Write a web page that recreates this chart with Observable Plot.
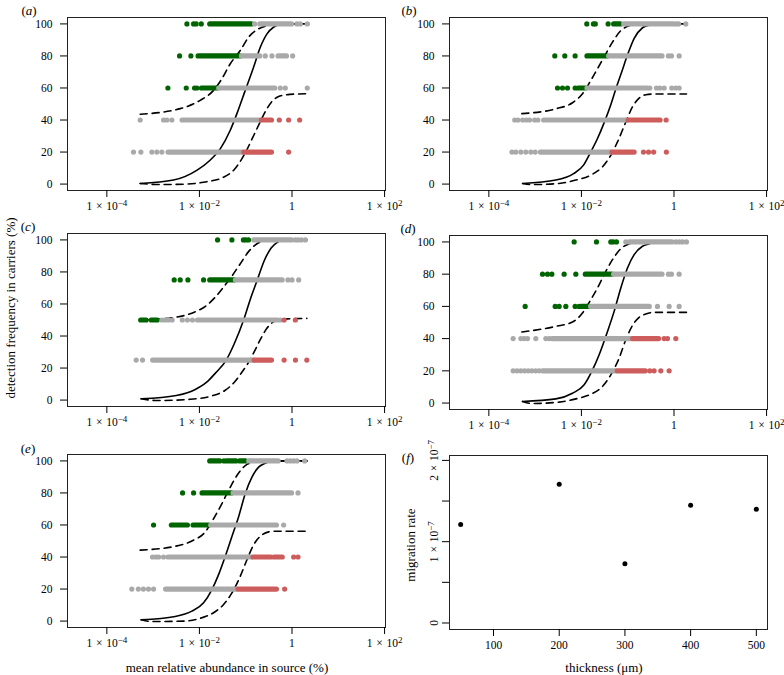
<!DOCTYPE html>
<html><head><meta charset="utf-8">
<script src="https://cdn.jsdelivr.net/npm/d3@7"></script>
<script src="https://cdn.jsdelivr.net/npm/@observablehq/plot@0.6"></script>
<style>
body{margin:0;background:#fff;}
#wrap{position:relative;width:784px;height:675px;font-family:"Liberation Serif","Times New Roman",Times,"DejaVu Serif",serif;color:#000;background:#fff;overflow:hidden;}
#wrap svg{position:absolute;overflow:visible;}
#wrap svg text{font-family:"Liberation Serif","Times New Roman",Times,"DejaVu Serif",serif;}
.lab{position:absolute;font-size:13px;line-height:1;white-space:nowrap;transform:translate(-50%,-50%);}
.rot{transform:translate(-50%,-50%) rotate(-90deg);}
</style></head><body><div id="wrap"></div>
<script>
// ---------- shared axis data ----------
const xTicks = [1e-4, 1e-2, 1, 1e2];
const xTickLabels = ["1\u2004×\u200410^−4", "1\u2004×\u200410^−2", "1", "1\u2004×\u200410^2"];
const yTicks = [0, 20, 40, 60, 80, 100];
const groups = ["n", "g", "r"];            // grey, green, red
const groupColors = ["#A9A9A9", "#006400", "#CD5C5C"];

// ---------- panel (a) : dots [row, group, log10 abundance], runs [row, group, from, to] ----------
const aDots = [
  [100,"g",-2.27],[100,"g",-2.126],[100,"g",-2.07],[100,"g",-1.96],[100,"n",-0.808],[100,"n",0.108],[100,"n",0.18],[100,"n",0.33],
  [80,"g",-2.429],[80,"g",-2.184],[80,"n",-0.577],[80,"n",-0.433],[80,"n",0.014],
  [60,"g",-2.681],[60,"g",-2.285],[60,"g",-2.105],[60,"g",-2.055],[60,"n",-0.253],[60,"n",-0.145],[60,"n",0.33],
  [40,"n",-3.28],[40,"n",-2.775],[40,"n",-2.703],[40,"n",-2.595],[40,"r",-0.274],[40,"r",-0.073],[40,"r",0.165],
  [20,"n",-3.424],[20,"n",-3.265],[20,"n",-3.027],[20,"n",-2.919],[20,"n",-2.811],[20,"r",-0.073]
];
const aRuns = [
  [100,"g",-1.766,-0.865],[100,"n",-0.685,0.0],
  [80,"g",-2.018,-1.117],[80,"n",-1.081,-0.685],[80,"n",-0.289,-0.108],
  [60,"g",-1.946,-1.6],[60,"n",-1.572,-0.361],
  [40,"n",-2.364,-0.685],[40,"r",-0.649,-0.433],
  [20,"n",-2.667,-1.067],[20,"r",-1.031,-0.433]
];
const aSolid = [[-3.28,0.4],[-2.56,2.5],[-2.05,8.7],[-1.77,14.9],[-1.55,22],[-1.334,33.6],[-1.19,44],[-1.01,58.5],[-0.83,73],[-0.685,85.4],[-0.54,93.8],[-0.4,97.9],[-0.253,99.7],[0.0,100],[0.36,100]];
const aUpper = [[-3.28,43.6],[-2.415,47.1],[-1.983,52.3],[-1.695,58.5],[-1.514,65.8],[-1.334,75.1],[-1.118,83.4],[-0.938,91.7],[-0.757,96.3],[-0.54,98.9],[-0.4,100],[0.36,100]];
const aLower = [[-3.28,0.4],[-2.85,-0.3],[-2.3,0],[-1.84,1.5],[-1.5,4],[-1.25,9],[-1.1,15],[-1.0,20],[-0.85,29],[-0.7,38],[-0.6,44],[-0.45,51],[-0.3,54.5],[-0.05,56],[0.36,56.4]];

// ---------- panel (b) ----------
const bDots = [
  [100,"g",-1.884],[100,"g",-1.74],[100,"g",-1.7],[100,"g",-1.423],[100,"n",0.05],[100,"n",0.1],[100,"n",0.255],
  [80,"g",-2.575],[80,"g",-2.359],[80,"g",-2.136],[80,"n",-0.12],[80,"n",-0.055],[80,"n",0.111],
  [60,"g",-2.517],[60,"g",-2.409],[60,"g",-2.301],[60,"g",-2.136],[60,"n",-0.523],[60,"n",-0.379],[60,"n",-0.307],[60,"n",-0.213],[60,"n",-0.048],[60,"n",0.039],[60,"n",0.111],
  [40,"n",-3.44],[40,"n",-3.37],[40,"n",-3.27],[40,"n",-3.19],[40,"n",-3.12],[40,"n",-3.01],[40,"n",-2.94],[40,"r",-0.17],
  [20,"n",-3.5],[20,"n",-3.417],[20,"n",-3.309],[20,"n",-3.201],[20,"n",-3.093],[20,"n",-3.0],[20,"r",-0.66],[20,"r",-0.55],[20,"r",-0.44],[20,"r",-0.165]
];
const bRuns = [
  [100,"g",-1.293,-1.149],[100,"n",-1.077,0.0],
  [80,"g",-1.869,-1.437],[80,"n",-1.401,-0.249],
  [60,"g",-2.064,-1.905],[60,"n",-1.869,-0.573],
  [40,"n",-2.805,-1.005],[40,"r",-0.98,-0.29],
  [20,"n",-2.877,-1.344],[20,"r",-1.329,-0.85]
];
const bSolid = [[-3.27,0.4],[-2.55,2.5],[-2.17,6.5],[-1.95,12],[-1.8,20],[-1.66,28],[-1.5,39],[-1.36,50],[-1.25,60],[-1.13,70],[-1.0,81],[-0.86,91],[-0.68,97.6],[-0.53,99.3],[-0.4,100],[0.27,100]];
const bUpper = [[-3.287,44],[-2.553,47],[-2.193,50.8],[-1.977,56.4],[-1.797,64.7],[-1.653,72],[-1.473,81.3],[-1.329,88.6],[-1.149,95.8],[-0.969,98.9],[-0.86,100],[0.27,100]];
const bLower = [[-3.27,0.4],[-3.057,-0.3],[-2.481,0.4],[-2.121,2.5],[-1.797,5.6],[-1.545,10.8],[-1.365,18],[-1.221,26.3],[-1.041,38.8],[-0.897,48.2],[-0.753,53.7],[-0.609,55.8],[-0.465,56.2],[0.27,56.2]];

// ---------- panel (c) ----------
const cDots = [
  [100,"g",-1.608],[100,"g",-1.298],[100,"g",-1.05],[100,"g",-1.0],[100,"g",-0.94],[100,"n",0.07],[100,"n",0.13],[100,"n",0.2],[100,"n",0.288],
  [75,"g",-2.545],[75,"g",-2.415],[75,"g",-2.249],[75,"g",-1.91],[75,"n",-0.087],[75,"n",0.0],[75,"n",0.144],
  [50,"n",-2.81],[50,"n",-2.74],[50,"n",-2.67],[50,"n",-2.59],[50,"n",-2.37],[50,"n",-2.26],[50,"n",-2.15],[50,"n",-0.25],[50,"r",-0.17],[50,"r",0.072],
  [25,"n",-3.366],[25,"n",-3.229],[25,"r",-0.17],[25,"r",0.075],[25,"r",0.32]
];
const cRuns = [
  [100,"n",-0.815,0.0],
  [75,"g",-1.766,-1.24],[75,"n",-1.211,-0.202],
  [50,"g",-3.258,-3.14],[50,"g",-3.03,-2.9],[50,"n",-2.03,-0.3],
  [25,"n",-3.0,-0.829],[25,"r",-0.808,-0.433]
];
const cSolid = [[-3.26,0.8],[-2.5,2.9],[-2.1,6.5],[-1.85,11],[-1.65,17],[-1.42,25],[-1.25,35],[-1.045,50],[-0.9,63],[-0.75,75],[-0.6,87],[-0.45,95],[-0.3,98.8],[-0.2,100],[0.32,100]];
const cUpper = [[-3.258,50],[-2.5,51.8],[-2.1,55],[-1.85,59],[-1.65,64.5],[-1.48,70.5],[-1.32,76.5],[-1.12,85],[-0.93,93],[-0.72,98.2],[-0.55,99.7],[-0.45,100],[0.32,100]];
const cLower = [[-3.258,0.8],[-2.9,-0.3],[-2.2,0.5],[-1.75,2.5],[-1.45,6],[-1.25,11],[-1.08,17.5],[-0.95,23],[-0.82,30],[-0.68,38],[-0.55,44.5],[-0.42,48.5],[-0.28,50.2],[-0.1,50.7],[0.32,51]];

// ---------- panel (d) ----------
const dDots = [
  [100,"g",-2.157],[100,"g",-1.675],[100,"g",-1.365],[100,"g",-1.315],[100,"g",-1.243],[100,"n",-1.041],[100,"n",-0.969],[100,"n",0.039],[100,"n",0.111],[100,"n",0.183],[100,"n",0.269],
  [80,"g",-2.841],[80,"g",-2.733],[80,"g",-2.639],[80,"g",-2.373],[80,"g",-2.121],[80,"n",-0.12],[80,"n",-0.055],[80,"n",0.111],
  [60,"g",-3.215],[60,"g",-2.567],[60,"g",-2.481],[60,"g",-2.337],[60,"g",-2.136],[60,"g",-2.049],[60,"n",-0.357],[60,"n",-0.105],[60,"n",0.111],
  [40,"n",-3.475],[40,"n",-3.309],[40,"n",-3.237],[40,"n",-3.165],[40,"n",-2.985],[40,"n",-2.769],[40,"n",-2.697],[40,"r",-0.213],[40,"r",-0.141],[40,"r",0.039],
  [20,"n",-3.475],[20,"n",-3.39],[20,"n",-3.31],[20,"n",-3.23],[20,"n",-3.15],[20,"n",-3.07],[20,"n",-2.99],[20,"n",-2.913],[20,"r",-0.523],[20,"r",-0.43],[20,"r",-0.285],[20,"r",-0.105]
];
const dRuns = [
  [100,"n",-0.912,-0.033],
  [80,"g",-1.905,-1.329],[80,"n",-1.293,-0.249],
  [60,"g",-1.992,-1.819],[60,"n",-1.79,-0.523],
  [40,"n",-2.625,-0.912],[40,"r",-0.883,-0.321],
  [20,"n",-2.827,-1.243],[20,"r",-1.214,-0.609]
];
const dSolid = [[-3.273,1.0],[-2.553,2.6],[-2.193,6.1],[-1.941,11.3],[-1.776,19.6],[-1.617,30],[-1.437,44.4],[-1.293,56.9],[-1.149,71.4],[-1.005,83.8],[-0.861,92.1],[-0.681,97.3],[-0.537,98.8],[-0.42,100],[0.29,100]];
const dUpper = [[-3.287,44.1],[-2.553,47.6],[-2.193,50.3],[-1.977,55.9],[-1.797,64.2],[-1.653,71.4],[-1.473,81.8],[-1.329,89],[-1.149,95.8],[-0.969,98.8],[-0.86,100],[0.29,100]];
const dLower = [[-3.273,1.0],[-3.057,-0.3],[-2.481,0.6],[-2.121,2.6],[-1.797,5.5],[-1.545,10.3],[-1.365,17.5],[-1.185,27.9],[-1.041,39.3],[-0.897,48.2],[-0.753,53.2],[-0.609,55.3],[-0.429,56.3],[0.29,56.3]];

// ---------- panel (e) ----------
const eDots = [
  [100,"g",-1.47],[100,"n",-0.108],[100,"n",-0.036],[100,"n",0.036],[100,"n",0.108],[100,"n",0.274],
  [80,"g",-2.364],[80,"g",-2.126],[80,"n",0.13],
  [60,"g",-2.991],[60,"n",-0.181],
  [40,"n",-3.013],[40,"n",-2.94],[40,"n",-2.88],[40,"n",-2.775],[40,"r",0.036],[40,"r",0.13],
  [20,"n",-3.46],[20,"n",-3.32],[20,"n",-3.21],[20,"n",-3.1],[20,"n",-2.99],[20,"r",-0.159]
];
const eRuns = [
  [100,"g",-1.766,-1.55],[100,"g",-1.4,-1.2],[100,"g",-1.12,-0.995],[100,"n",-0.923,-0.289],
  [80,"g",-1.932,-1.298],[80,"n",-1.262,0.0],
  [60,"g",-2.595,-2.249],[60,"g",-2.126,-1.788],[60,"n",-1.745,-0.325],
  [40,"n",-2.667,-0.865],[40,"r",-0.829,-0.45],[40,"r",-0.38,-0.2],
  [20,"n",-2.72,-1.19],[20,"r",-1.154,-0.325]
];
const eSolid = [[-3.258,0.8],[-2.523,2.9],[-2.163,6.2],[-1.91,11.4],[-1.73,19.7],[-1.586,29],[-1.442,40.4],[-1.298,52.8],[-1.153,65.2],[-1.009,79.7],[-0.865,89.9],[-0.721,96.1],[-0.577,98.5],[-0.45,100],[0.324,100]];
const eUpper = [[-3.28,44.3],[-2.523,46.7],[-2.163,50],[-1.874,55.7],[-1.694,63.9],[-1.514,73.3],[-1.37,81.6],[-1.19,90.9],[-1.009,97.1],[-0.829,99.2],[-0.72,100],[0.324,100]];
const eLower = [[-3.258,0.8],[-3.027,-0.3],[-2.307,0],[-1.946,2.1],[-1.694,5.2],[-1.478,10.4],[-1.298,17.6],[-1.117,28],[-0.973,38.3],[-0.829,47.6],[-0.649,53.8],[-0.505,55.7],[-0.361,56.1],[0.324,56.1]];

// ---------- panel (f) ----------
const thickness = [50, 200, 300, 400, 500];
const migrationRate = [1.21e-7, 1.706e-7, 0.728e-7, 1.448e-7, 1.399e-7];
const fXTicks = [100, 200, 300, 400, 500];
const fYTicks = [0, 0.5e-7, 1e-7, 1.5e-7, 2e-7];
const fYTickLabels = ["0", "", "1\u2004×\u200410^−7", "", "2\u2004×\u200410^−7"];

// ---------- drawing ----------
const wrap = document.getElementById("wrap");
const baseStyle = {fontFamily: "Liberation Serif", fontSize: "11.5px", color: "#000", background: "transparent", overflow: "visible"};

// turn "base^exp" tick labels into real superscripts
function superscripts(svg) {
  svg.querySelectorAll("text").forEach(t => {
    const s = t.textContent;
    const i = s.indexOf("^");
    if (i < 0) return;
    t.textContent = s.slice(0, i);
    const ts = document.createElementNS("http://www.w3.org/2000/svg", "tspan");
    ts.setAttribute("dy", "-0.42em");
    ts.setAttribute("font-size", "0.78em");
    ts.textContent = s.slice(i + 1);
    t.appendChild(ts);
  });
}

function place(svg, left, top) {
  superscripts(svg);
  svg.style.left = left + "px";
  svg.style.top = top + "px";
  wrap.appendChild(svg);
}

function panel(dots, runs, solid, upper, lower, box) {
  const D = dots.map(([row, grp, e]) => ({row, grp, x: 10 ** e}));
  const R = runs.map(([row, grp, a, b]) => ({row, grp, x1: 10 ** a, x2: 10 ** b}));
  const L = arr => arr.map(([e, v]) => ({x: 10 ** e, y: v}));
  const svg = Plot.plot({
    width: box.w, height: box.h,
    marginTop: box.mt, marginBottom: box.mb, marginLeft: box.ml, marginRight: box.mr,
    style: baseStyle,
    x: {type: "log", domain: [10 ** -4.85, 10 ** 2.02]},
    y: {domain: [-4, 104]},
    color: {domain: groups, range: groupColors},
    marks: [
      Plot.line(L(solid), {x: "x", y: "y", stroke: "#000", strokeWidth: 1.6, curve: "monotone-x"}),
      Plot.line(L(upper), {x: "x", y: "y", stroke: "#000", strokeWidth: 1.6, strokeDasharray: "7,5", curve: "monotone-x"}),
      Plot.line(L(lower), {x: "x", y: "y", stroke: "#000", strokeWidth: 1.6, strokeDasharray: "7,5", curve: "monotone-x"}),
      Plot.ruleY(R, {y: "row", x1: "x1", x2: "x2", stroke: "grp", strokeWidth: 5.2, strokeLinecap: "round"}),
      Plot.dot(D, {x: "x", y: "row", r: 2.6, fill: "grp"}),
      Plot.frame({stroke: "#222"}),
      Plot.axisX(xTicks, {tickSize: 7, tickPadding: 4, tickFormat: d => xTickLabels[xTicks.indexOf(d)], label: null}),
      Plot.axisY(yTicks, {tickSize: 7, tickPadding: 8, label: null})
    ]
  });
  place(svg, box.left, box.top);
}

panel(aDots, aRuns, aSolid, aUpper, aLower, {left: 0, top: 0, w: 392, h: 225, mt: 17, mb: 35, ml: 67, mr: 7});
panel(bDots, bRuns, bSolid, bUpper, bLower, {left: 392, top: 0, w: 392, h: 225, mt: 17, mb: 35, ml: 57, mr: 17});
panel(cDots, cRuns, cSolid, cUpper, cLower, {left: 0, top: 225, w: 392, h: 205, mt: 8, mb: 24, ml: 67, mr: 7});
panel(dDots, dRuns, dSolid, dUpper, dLower, {left: 392, top: 225, w: 392, h: 205, mt: 10, mb: 21, ml: 57, mr: 17});
panel(eDots, eRuns, eSolid, eUpper, eLower, {left: 0, top: 430, w: 392, h: 245, mt: 24, mb: 48, ml: 67, mr: 7});

const F = thickness.map((t, i) => ({t, m: migrationRate[i]}));
const fsvg = Plot.plot({
  width: 392, height: 245, marginTop: 25, marginBottom: 46, marginLeft: 57, marginRight: 17,
  style: baseStyle,
  x: {domain: [33, 517]},
  y: {domain: [-0.08e-7, 2.06e-7]},
  marks: [
    Plot.dot(F, {x: "t", y: "m", r: 2.5, fill: "#000"}),
    Plot.frame({stroke: "#222"}),
    Plot.axisX(fXTicks, {tickSize: 7, tickPadding: 4, label: null}),
    Plot.axisY(fYTicks, {tickSize: 7, tickPadding: 5, tickRotate: -90, tickFormat: d => fYTickLabels[fYTicks.indexOf(d)], label: null})
  ]
});
place(fsvg, 392, 430);

// ---------- text labels ----------
function label(html, x, y, cls) {
  const s = document.createElement("div");
  s.className = "lab" + (cls ? " " + cls : "");
  s.innerHTML = html;
  s.style.left = x + "px";
  s.style.top = y + "px";
  wrap.appendChild(s);
}
label("(<i>a</i>)", 29, 10);
label("(<i>b</i>)", 409, 10);
label("(<i>c</i>)", 28, 226);
label("(<i>d</i>)", 408, 228);
label("(<i>e</i>)", 28, 448);
label("(<i>f</i>)", 408, 457);
label("detection frequency in carriers (%)", 10, 308, "rot");
label("mean relative abundance in source (%)", 227, 667);
label("thickness (μm)", 604, 667);
label("migration rate", 410, 545, "rot");
</script></body></html>
